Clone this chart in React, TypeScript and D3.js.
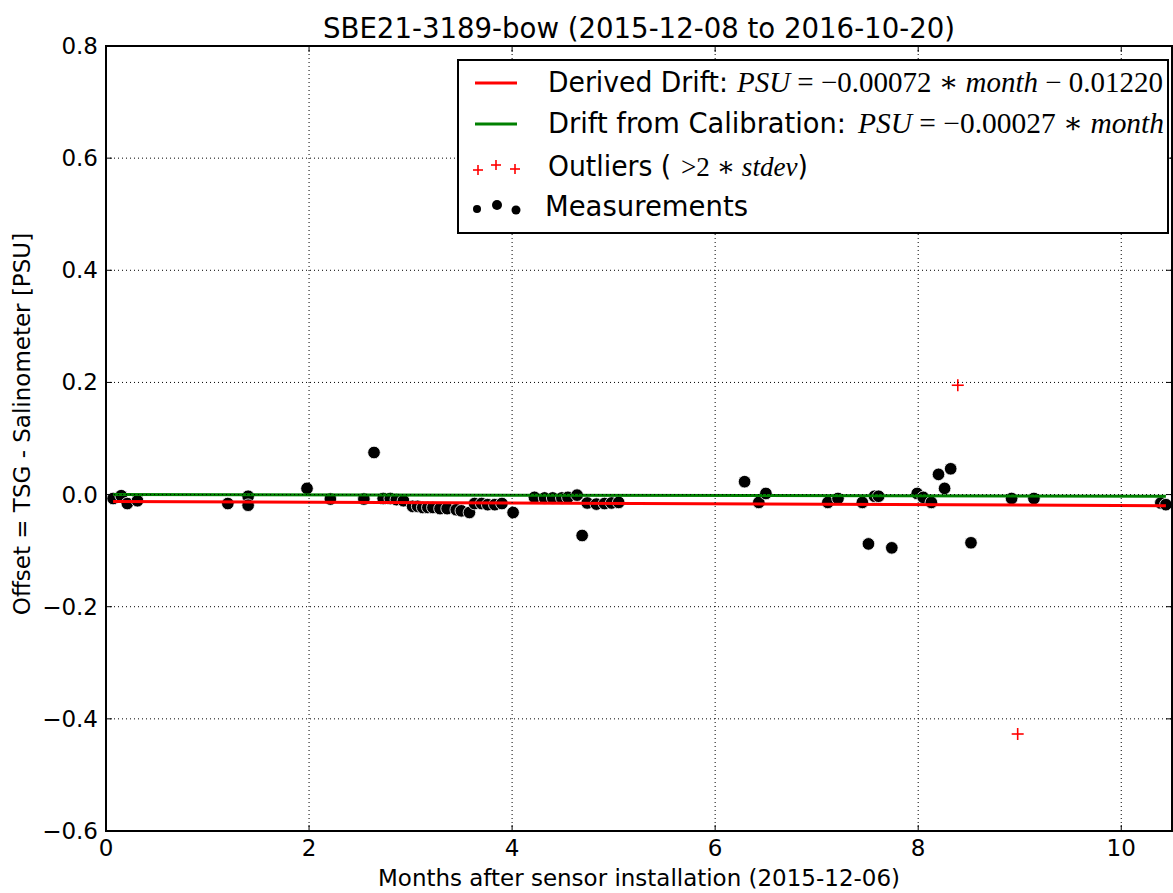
import React from "react";
import * as d3 from "d3";

const title = "SBE21-3189-bow (2015-12-08 to 2016-10-20)";
const xLabel = "Months after sensor installation (2015-12-06)";
const yLabel = "Offset = TSG - Salinometer [PSU]";

const xTicks = [0, 2, 4, 6, 8, 10];
const yTicks = [-0.6, -0.4, -0.2, 0.0, 0.2, 0.4, 0.6, 0.8];

const measMonths = [
  0.07, 0.15, 0.21, 0.31, 1.2, 1.4, 1.4, 1.98, 2.21, 2.54, 2.64,
  2.73, 2.8, 2.86, 2.93, 3.02, 3.07, 3.12, 3.17, 3.22, 3.29, 3.36, 3.45, 3.5, 3.58,
  3.63, 3.7, 3.76, 3.83, 3.9, 4.01,
  4.22, 4.32, 4.4, 4.49, 4.55, 4.64, 4.69, 4.74, 4.83, 4.91, 4.98, 5.05,
  6.29, 6.43, 6.5, 7.11, 7.21, 7.45, 7.51, 7.57, 7.61, 7.74,
  7.99, 8.05, 8.13, 8.2, 8.26, 8.32, 8.52, 8.92, 9.14, 10.39, 10.44,
];
const measOffsets = [
  -0.007, -0.002, -0.016, -0.011, -0.016, -0.003, -0.019, 0.011, -0.008, -0.008, 0.075,
  -0.007, -0.007, -0.009, -0.011, -0.021, -0.021, -0.023, -0.023, -0.023, -0.025, -0.025, -0.027, -0.029, -0.032,
  -0.016, -0.016, -0.018, -0.018, -0.016, -0.032,
  -0.005, -0.006, -0.006, -0.006, -0.005, -0.001, -0.073, -0.015, -0.017, -0.016, -0.015, -0.014,
  0.023, -0.014, 0.002, -0.014, -0.007, -0.014, -0.088, -0.003, -0.003, -0.095,
  0.002, -0.005, -0.014, 0.036, 0.011, 0.046, -0.086, -0.007, -0.007, -0.015, -0.018,
];

const outlierMonths = [8.39, 8.98];
const outlierOffsets = [0.195, -0.427];

const derivedSlope = -0.00072;
const derivedIntercept = -0.0122;
const calibSlope = -0.00027;

const W = 1173;
const H = 893;
const M = { left: 106, right: 1172, top: 46, bottom: 831 };

export default function App() {
  const x = d3.scaleLinear().domain([0, 10.5]).range([M.left, M.right]);
  const y = d3.scaleLinear().domain([-0.6, 0.8]).range([M.bottom, M.top]);

  const x0 = d3.min(measMonths) as number;
  const x1 = d3.max(measMonths) as number;
  const line = d3
    .line<[number, number]>()
    .x((d) => x(d[0]))
    .y((d) => y(d[1]));
  const redPts: [number, number][] = [x0, x1].map((m) => [m, derivedSlope * m + derivedIntercept]);
  const greenPts: [number, number][] = [x0, x1].map((m) => [m, calibSlope * m]);

  const font = "DejaVu Sans, sans-serif";
  const mathFont = "Liberation Serif, DejaVu Serif, serif";
  const tickLen = 6;

  const legX = 458;
  const legY = 60;
  const legW = 710;
  const legH = 173;
  const rowY = [83, 124, 167, 207];

  return (
    <svg width={W} height={H} style={{ position: "absolute", left: 0, top: 0, background: "#fff" }}>
      <rect x={0} y={0} width={W} height={H} fill="#fff" />
      {/* scatter */}
      <g>
        {measMonths.map((m, i) => (
          <circle key={i} cx={x(m)} cy={y(measOffsets[i])} r={6.3} fill="#000" stroke="#fff" strokeWidth={0.8} />
        ))}
      </g>
      {outlierMonths.map((m, i) => {
        const cx = x(m);
        const cy = y(outlierOffsets[i]);
        return (
          <g key={i} stroke="#ff0000" strokeWidth={1.6}>
            <line x1={cx - 6} x2={cx + 6} y1={cy} y2={cy} />
            <line x1={cx} x2={cx} y1={cy - 6} y2={cy + 6} />
          </g>
        );
      })}
      <path d={line(redPts) || ""} stroke="#ff0000" strokeWidth={3} fill="none" />
      <path d={line(greenPts) || ""} stroke="#008000" strokeWidth={3} fill="none" />

      {/* grid */}
      <g stroke="#000" strokeWidth={1} strokeDasharray="1,3">
        {xTicks.filter((t) => t > 0).map((t) => (
          <line key={"gx" + t} x1={x(t)} x2={x(t)} y1={M.top} y2={M.bottom} />
        ))}
        {yTicks.filter((t) => t > -0.6 && t < 0.8).map((t) => (
          <line key={"gy" + t} x1={M.left} x2={M.right} y1={y(t)} y2={y(t)} />
        ))}
      </g>

      {/* ticks */}
      <g stroke="#000" strokeWidth={1}>
        {xTicks.map((t) => (
          <g key={"tx" + t}>
            <line x1={x(t)} x2={x(t)} y1={M.bottom} y2={M.bottom - tickLen} />
            <line x1={x(t)} x2={x(t)} y1={M.top} y2={M.top + tickLen} />
          </g>
        ))}
        {yTicks.map((t) => (
          <g key={"ty" + t}>
            <line x1={M.left} x2={M.left + tickLen} y1={y(t)} y2={y(t)} />
            <line x1={M.right} x2={M.right - tickLen} y1={y(t)} y2={y(t)} />
          </g>
        ))}
      </g>

      {/* legend */}
      <rect x={legX} y={legY} width={legW} height={legH} fill="#fff" stroke="#000" strokeWidth={2} />
      <line x1={475} x2={517} y1={rowY[0]} y2={rowY[0]} stroke="#ff0000" strokeWidth={3} />
      <line x1={475} x2={517} y1={rowY[1]} y2={rowY[1]} stroke="#008000" strokeWidth={3} />
      {[
        [478, 170],
        [496, 165],
        [515, 169],
      ].map(([px, py], i) => (
        <g key={"lp" + i} stroke="#ff0000" strokeWidth={1.6}>
          <line x1={px - 5} x2={px + 5} y1={py} y2={py} />
          <line x1={px} x2={px} y1={py - 5} y2={py + 5} />
        </g>
      ))}
      {[
        [477, 209, 4],
        [497, 205, 5],
        [516, 210, 4.5],
      ].map(([px, py, r], i) => (
        <circle key={"ld" + i} cx={px} cy={py} r={r} fill="#000" />
      ))}
      <g fontFamily={font} fontSize={27.5} fill="#000">
        <text x={548} y={rowY[0] + 9} textLength={180} lengthAdjust="spacingAndGlyphs">Derived Drift:</text>
        <text x={548} y={rowY[1] + 9} textLength={298} lengthAdjust="spacingAndGlyphs">Drift from Calibration:</text>
        <text x={548} y={rowY[2] + 9} textLength={260} lengthAdjust="spacingAndGlyphs">
          <tspan>Outliers (</tspan>
          <tspan dx={10} fontFamily={mathFont} fontSize={28}>&gt;2 ∗ </tspan>
          <tspan fontFamily={mathFont} fontSize={28} fontStyle="italic">stdev</tspan>
          <tspan>)</tspan>
        </text>
        <text x={545} y={rowY[3] + 9} textLength={203} lengthAdjust="spacingAndGlyphs">Measurements</text>
      </g>
      <g fontFamily={mathFont} fontSize={29} fill="#000">
        <text x={737} y={rowY[0] + 9} textLength={426} lengthAdjust="spacingAndGlyphs">
          <tspan fontStyle="italic">PSU</tspan>
          <tspan> = −0.00072 ∗ </tspan>
          <tspan fontStyle="italic">month</tspan>
          <tspan> − 0.01220</tspan>
        </text>
        <text x={858} y={rowY[1] + 9} textLength={306} lengthAdjust="spacingAndGlyphs">
          <tspan fontStyle="italic">PSU</tspan>
          <tspan> = −0.00027 ∗ </tspan>
          <tspan fontStyle="italic">month</tspan>
        </text>
      </g>

      {/* frame */}
      <rect x={M.left} y={M.top} width={M.right - M.left} height={M.bottom - M.top} fill="none" stroke="#000" strokeWidth={2} />

      {/* tick labels */}
      <g fontFamily={font} fontSize={23} fill="#000">
        {xTicks.map((t) => (
          <text key={"lx" + t} x={x(t)} y={M.bottom + 25} textAnchor="middle">
            {d3.format("d")(t)}
          </text>
        ))}
        {yTicks.map((t) => (
          <text key={"ly" + t} x={M.left - 8} y={y(t) + 8} textAnchor="end">
            {d3.format(".1f")(t).replace("-", "−")}
          </text>
        ))}
      </g>

      <text x={(M.left + M.right) / 2} y={38} textAnchor="middle" fontFamily={font} fontSize={27.5} textLength={632} lengthAdjust="spacingAndGlyphs">
        {title}
      </text>
      <text x={(M.left + M.right) / 2} y={886} textAnchor="middle" fontFamily={font} fontSize={23} textLength={522} lengthAdjust="spacingAndGlyphs">
        {xLabel}
      </text>
      <text transform={`translate(30, 424) rotate(-90)`} textAnchor="middle" fontFamily={font} fontSize={23}>
        {yLabel}
      </text>
    </svg>
  );
}
